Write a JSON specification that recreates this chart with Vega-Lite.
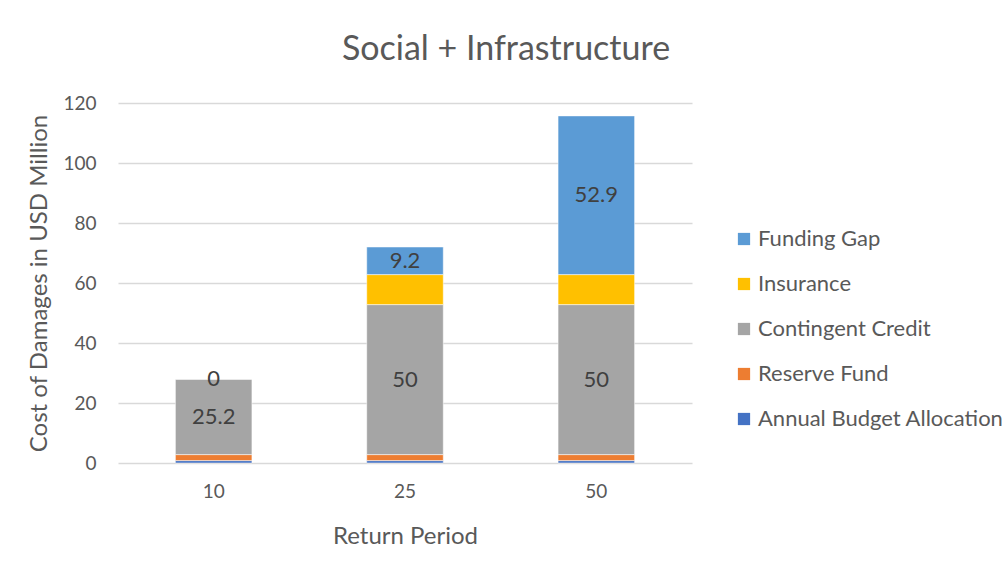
{
  "$schema": "https://vega.github.io/schema/vega-lite/v6.json",
  "width": 574,
  "height": 360,
  "autosize": {"type": "none"},
  "padding": {"left": 118, "top": 103, "right": 314, "bottom": 105},
  "background": "white",
  "config": {
    "font": "Lato",
    "view": {"stroke": null},
    "axis": {"labelColor": "#595959", "titleColor": "#595959", "labelFont": "Lato", "titleFont": "Lato", "titleFontWeight": "normal"}
  },
  "title": {
    "text": "Social + Infrastructure",
    "fontSize": 34,
    "fontWeight": "normal",
    "color": "#595959",
    "anchor": "middle",
    "dx": 101,
    "offset": 27
  },
  "data": {
    "values": [
      {"period": "10", "source": "Annual Budget Allocation", "ord": 1, "value": 0.8},
      {"period": "10", "source": "Reserve Fund", "ord": 2, "value": 2.0},
      {"period": "10", "source": "Contingent Credit", "ord": 3, "value": 25.2},
      {"period": "10", "source": "Insurance", "ord": 4, "value": 0},
      {"period": "10", "source": "Funding Gap", "ord": 5, "value": 0},
      {"period": "25", "source": "Annual Budget Allocation", "ord": 1, "value": 0.8},
      {"period": "25", "source": "Reserve Fund", "ord": 2, "value": 2.0},
      {"period": "25", "source": "Contingent Credit", "ord": 3, "value": 50},
      {"period": "25", "source": "Insurance", "ord": 4, "value": 10},
      {"period": "25", "source": "Funding Gap", "ord": 5, "value": 9.2},
      {"period": "50", "source": "Annual Budget Allocation", "ord": 1, "value": 0.8},
      {"period": "50", "source": "Reserve Fund", "ord": 2, "value": 2.0},
      {"period": "50", "source": "Contingent Credit", "ord": 3, "value": 50},
      {"period": "50", "source": "Insurance", "ord": 4, "value": 10},
      {"period": "50", "source": "Funding Gap", "ord": 5, "value": 52.9}
    ]
  },
  "transform": [
    {"stack": "value", "groupby": ["period"], "sort": [{"field": "ord", "order": "ascending"}], "as": ["v0", "v1"]},
    {"calculate": "(datum.v0 + datum.v1) / 2", "as": "mid"}
  ],
  "encoding": {
    "x": {
      "field": "period",
      "type": "ordinal",
      "scale": {"paddingInner": 0.6, "paddingOuter": 0.3},
      "axis": {
        "title": "Return Period",
        "labelAngle": 0,
        "labelFontSize": 19,
        "titleFontSize": 24,
        "labelPadding": 19,
        "titlePadding": 23,
        "ticks": false,
        "domain": false
      }
    }
  },
  "layer": [
    {
      "mark": {"type": "bar", "stroke": "white", "strokeWidth": 0.5},
      "encoding": {
        "y": {
          "field": "v0",
          "type": "quantitative",
          "scale": {"domain": [0, 120]},
          "axis": {
            "title": "Cost of Damages in USD Million",
            "values": [0, 20, 40, 60, 80, 100, 120],
            "labelFontSize": 19,
            "titleFontSize": 24,
            "labelPadding": 22,
            "titlePadding": 11,
            "ticks": false,
            "domain": false,
            "gridColor": "#d9d9d9",
            "gridWidth": 1.5
          }
        },
        "y2": {"field": "v1"},
        "color": {
          "field": "source",
          "type": "nominal",
          "scale": {
            "domain": ["Funding Gap", "Insurance", "Contingent Credit", "Reserve Fund", "Annual Budget Allocation"],
            "range": ["#5B9BD5", "#FFC000", "#A5A5A5", "#ED7D31", "#4472C4"]
          },
          "legend": {
            "title": null,
            "orient": "none",
            "legendX": 615,
            "legendY": 125,
            "symbolType": "square",
            "symbolSize": 150,
            "symbolStrokeWidth": 0,
            "labelFontSize": 22,
            "labelColor": "#595959",
            "labelFont": "Lato",
            "labelLimit": 400,
            "rowPadding": 23,
            "labelOffset": 3
          }
        }
      }
    },
    {
      "transform": [{"filter": "datum.source == 'Contingent Credit' || datum.source == 'Funding Gap'"}],
      "mark": {"type": "text", "fontSize": 22, "color": "#404040", "baseline": "middle"},
      "encoding": {
        "y": {"field": "mid", "type": "quantitative"},
        "text": {"field": "value", "type": "quantitative"}
      }
    }
  ]
}
